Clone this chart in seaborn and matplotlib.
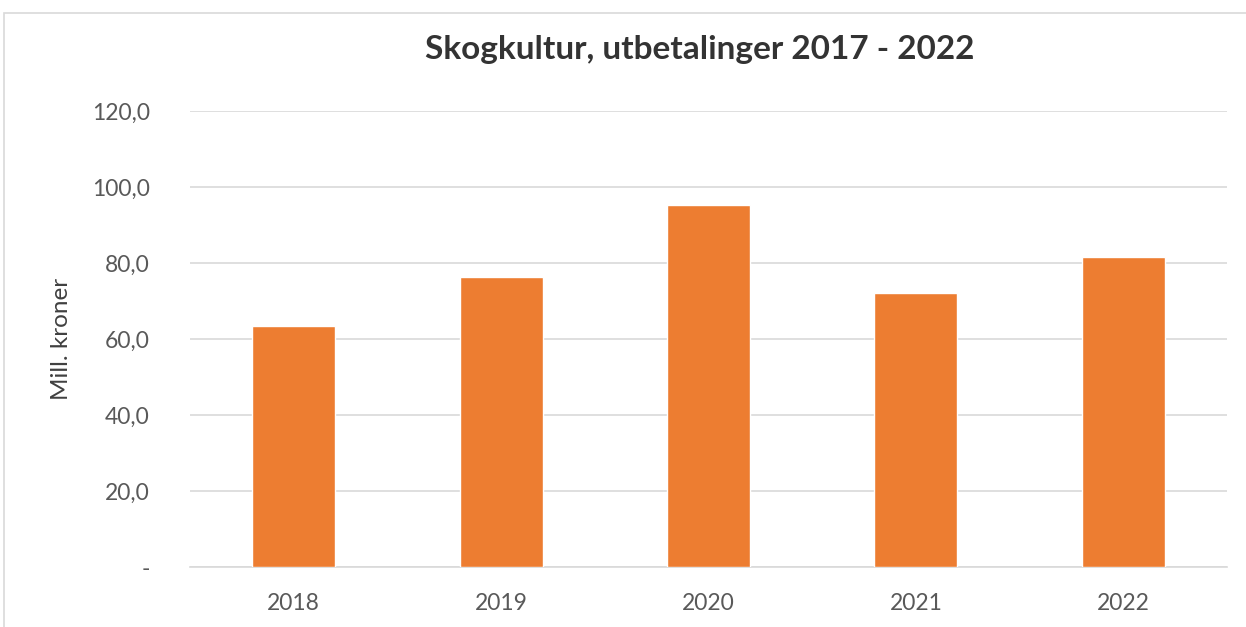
import matplotlib
matplotlib.use("Agg")
import matplotlib.pyplot as plt
import seaborn as sns
import pandas as pd
from matplotlib.patches import Rectangle

years = ["2018", "2019", "2020", "2021", "2022"]
values = [63.4, 76.3, 95.3, 72.2, 81.5]
yticks = [0, 20, 40, 60, 80, 100, 120]
ytick_labels = ["-", "20,0", "40,0", "60,0", "80,0", "100,0", "120,0"]

sns.set_theme(style="white")
plt.rcParams["font.family"] = ["Lato", "DejaVu Sans"]

df = pd.DataFrame({"year": years, "value": values})

W, H = 1246, 627
fig = plt.figure(figsize=(W / 100, H / 100), dpi=100)
fig.patch.set_facecolor("white")
ax = fig.add_axes([190 / W, 1 - 567 / H, (1227 - 190) / W, (567 - 111) / H])

sns.barplot(data=df, x="year", y="value", color="#ED7D31", width=0.4,
            saturation=1, ax=ax, zorder=3)

ax.set_ylim(0, 120)
ax.set_yticks(yticks)
ax.set_yticklabels(ytick_labels, fontsize=16.5, color="#595959")
ax.tick_params(axis="x", labelsize=16.5, labelcolor="#595959", length=0, pad=19)
ax.tick_params(axis="y", length=0, pad=29)
ax.grid(axis="y", color="#d9d9d9", linewidth=1.2, zorder=0)
for s in ["top", "right", "left"]:
    ax.spines[s].set_visible(False)
ax.spines["bottom"].set_color("#d9d9d9")
ax.spines["bottom"].set_linewidth(1.2)
ax.set_xlabel("")
ax.set_ylabel("Mill. kroner", fontsize=17.5, color="#404040", labelpad=14)

fig.text(700 / W, 1 - 50 / H, "Skogkultur, utbetalinger 2017 - 2022",
         ha="center", va="center", fontsize=24, fontweight="bold", color="#333333")

fig.add_artist(Rectangle((4 / W, -0.1), 1.2, 1 - 13 / H + 0.1,
                         transform=fig.transFigure, fill=False,
                         edgecolor="#d9d9d9", linewidth=1.2))

fig.savefig("out.png", dpi=100)
